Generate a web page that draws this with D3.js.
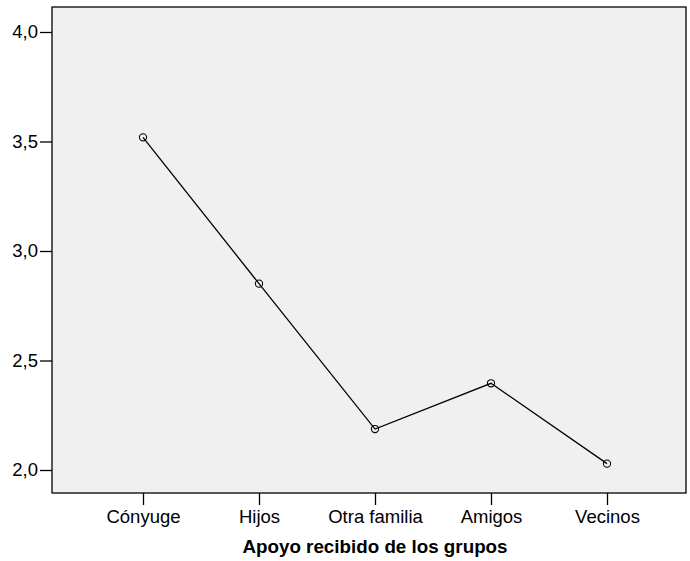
<!DOCTYPE html>
<html>
<head>
<meta charset="utf-8">
<script src="https://cdn.jsdelivr.net/npm/d3@7"></script>
<style>
html,body{margin:0;padding:0;background:#fff;}
svg{display:block;font-family:"Liberation Sans",Arial,sans-serif;}
</style>
</head>
<body>
<svg id="chart" width="690" height="561"></svg>
<script>
const categories = ["Cónyuge", "Hijos", "Otra familia", "Amigos", "Vecinos"];
const values = [3.519, 2.851, 2.187, 2.396, 2.029];
const yTicks = [2.0, 2.5, 3.0, 3.5, 4.0];
const xTitle = "Apoyo recibido de los grupos";

const svg = d3.select("#chart");
const pLeft = 52, pRight = 686, pTop = 7, pBottom = 493;

const x = d3.scalePoint().domain(categories).range([143, 607]);
const y = d3.scaleLinear().domain([2.0, 4.0]).range([470, 32]);

svg.append("rect").attr("x", pLeft).attr("y", pTop)
  .attr("width", pRight - pLeft).attr("height", pBottom - pTop)
  .attr("fill", "#f0f0f0").attr("stroke", "#000").attr("stroke-width", 1.3);

const fmt = d => d3.format(".1f")(d).replace(".", ",");

const yAxis = svg.append("g").attr("transform", `translate(${pLeft},0)`)
  .call(d3.axisLeft(y).tickValues(yTicks).tickFormat(fmt).tickSize(12).tickPadding(2));
yAxis.select(".domain").remove();
yAxis.selectAll("line").attr("stroke", "#000").attr("stroke-width", 1.3);
yAxis.selectAll("text").attr("font-size", 18.5).attr("fill", "#000")
  .attr("font-family", "Liberation Sans, Arial, sans-serif");

const xAxis = svg.append("g").attr("transform", `translate(0,${pBottom})`)
  .call(d3.axisBottom(x).tickSize(12).tickPadding(5));
xAxis.select(".domain").remove();
xAxis.selectAll("line").attr("stroke", "#000").attr("stroke-width", 1.3);
xAxis.selectAll("text").attr("font-size", 18.5).attr("fill", "#000")
  .attr("font-family", "Liberation Sans, Arial, sans-serif");

svg.append("text").attr("x", 375).attr("y", 553).attr("text-anchor", "middle")
  .attr("font-size", 18.8).attr("font-weight", "bold").text(xTitle);

const data = categories.map((c, i) => ({c, v: values[i]}));
svg.append("path").datum(data)
  .attr("d", d3.line().x(d => x(d.c)).y(d => y(d.v)))
  .attr("fill", "none").attr("stroke", "#000").attr("stroke-width", 1.3);

svg.selectAll("circle.pt").data(data).enter().append("circle")
  .attr("class", "pt")
  .attr("cx", d => x(d.c)).attr("cy", d => y(d.v)).attr("r", 3.6)
  .attr("fill", "none").attr("stroke", "#000").attr("stroke-width", 1.1);
</script>
</body>
</html>
